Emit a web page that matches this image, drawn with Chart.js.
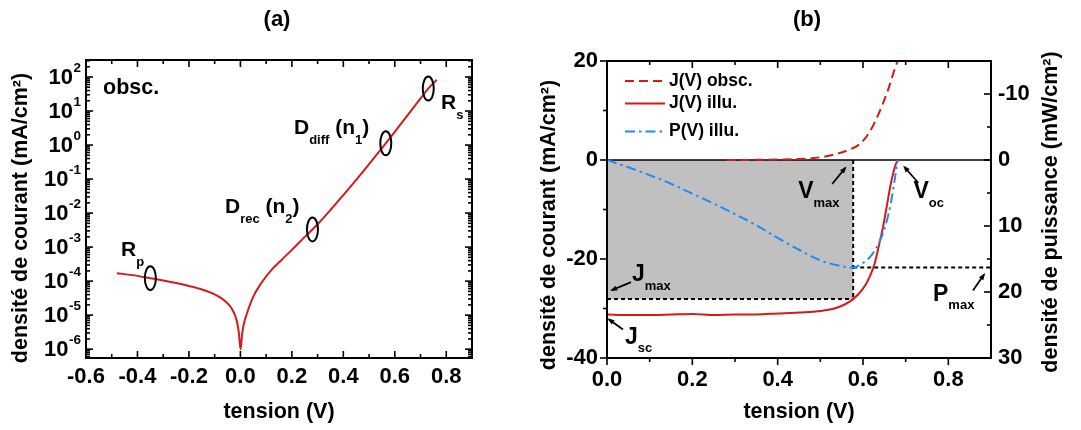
<!DOCTYPE html>
<html>
<head>
<meta charset="utf-8">
<script src="https://cdn.jsdelivr.net/npm/chart.js@4.4.0/dist/chart.umd.min.js"></script>
<style>
  html, body { margin: 0; padding: 0; background: #fff; }
  #wrap { position: relative; width: 1081px; height: 430px; }
  canvas { position: absolute; top: 0; }
</style>
</head>
<body>
<div id="wrap">
  <canvas id="chartA" width="540" height="430" style="left:0"></canvas>
  <canvas id="chartB" width="541" height="430" style="left:540px"></canvas>
</div>
<script>
// (a) dark J(V), absolute value on a log axis
const voltsDark = [-0.48, -0.42, -0.35, -0.3, -0.25, -0.2, -0.15, -0.1, -0.07, -0.045, -0.03, -0.02, -0.012, -0.006, -0.002,
  0.001, 0.006, 0.012, 0.025, 0.05, 0.08, 0.12, 0.16, 0.2, 0.25, 0.3, 0.35, 0.4, 0.45, 0.5, 0.55, 0.6, 0.65, 0.7, 0.73, 0.763];
const currentDark = [1.7e-4, 1.5e-4, 1.22e-4, 1.05e-4, 8.8e-5, 7.2e-5, 5.7e-5, 4.1e-5, 3.0e-5, 2.05e-5, 1.4e-5, 9.5e-6, 5.8e-6, 3.0e-6, 1.4e-6,
  1.0e-6, 2.5e-6, 5e-6, 1.1e-5, 3.5e-5, 8.5e-5, 2.1e-4, 4.2e-4, 8.3e-4, 2.0e-3, 4.7e-3, 1.23e-2, 3.39e-2, 9.5e-2, 0.275, 0.81, 2.45, 7.6, 23.4, 45.7, 83];
const xTicksA = [-0.6, -0.4, -0.2, 0, 0.2, 0.4, 0.6, 0.8];
const logExponents = [-6, -5, -4, -3, -2, -1, 0, 1, 2];

// (b) dark + illuminated J(V) and P(V)
const voltsObsc = [0.28, 0.35, 0.4, 0.45, 0.485, 0.523, 0.562, 0.592, 0.615, 0.638, 0.658, 0.673, 0.681];
const currentObsc = [0.0, 0.03, 0.08, 0.2, 0.4, 0.9, 1.9, 3.2, 5.6, 9.6, 14.0, 18.0, 20.0];
const voltsIllu = [0, 0.05, 0.1, 0.15, 0.2, 0.25, 0.3, 0.35, 0.4, 0.45, 0.5, 0.54, 0.577, 0.6, 0.615, 0.627, 0.638, 0.647, 0.654, 0.665, 0.677, 0.683];
const currentIllu = [-31.2, -31.3, -31.3, -31.2, -31.1, -31.3, -31.2, -31.2, -31.0, -30.8, -30.5, -29.8, -28.1, -26.0, -23.7, -21.0, -17.0, -13.5, -10.2, -4.9, -0.8, 0];
const voltsPower = [0, 0.05, 0.1, 0.15, 0.2, 0.25, 0.3, 0.35, 0.4, 0.45, 0.5, 0.54, 0.577, 0.6, 0.62, 0.64, 0.655, 0.665, 0.675, 0.681];
const powerIllu = [0, 1.1, 2.3, 3.6, 5.1, 6.6, 8.2, 9.9, 11.8, 13.6, 15.2, 15.95, 16.3, 15.6, 14.4, 12.2, 9.4, 6.6, 2.7, 0];
const vMax = 0.577, jMax = -28.1, pMax = 16.3;
const xTicksB = [0, 0.2, 0.4, 0.6, 0.8];
const yTicksB = [-40, -20, 0, 20];
const y2TicksB = [-10, 0, 10, 20, 30];

const FAMILY = "'Liberation Sans', Arial, sans-serif";
const RED = '#d61a1a';
const BLUE = '#1a8cff';
const font = (size) => 'bold ' + size + 'px ' + FAMILY;
const pts = (xs, ys) => xs.map((x, i) => ({ x: x, y: ys[i] }));

// text with _{sub} parts
function drawRich(ctx, x, y, str, size, subSize, subDy) {
  ctx.textAlign = 'left';
  ctx.textBaseline = 'middle';
  ctx.fillStyle = '#000';
  str.split(/(_\{[^}]*\})/).forEach(part => {
    if (!part) return;
    const sub = part.startsWith('_{');
    const t = sub ? part.slice(2, -1) : part;
    ctx.font = font(sub ? subSize : size);
    ctx.fillText(t, x, sub ? y + subDy : y);
    x += ctx.measureText(t).width;
  });
}

function line(ctx, x1, y1, x2, y2) {
  ctx.beginPath();
  ctx.moveTo(x1, y1);
  ctx.lineTo(x2, y2);
  ctx.stroke();
}

function arrow(ctx, x1, y1, x2, y2) {
  ctx.lineWidth = 1.8;
  line(ctx, x1, y1, x2, y2);
  const ang = Math.atan2(y2 - y1, x2 - x1);
  ctx.beginPath();
  ctx.moveTo(x2 + 2 * Math.cos(ang), y2 + 2 * Math.sin(ang));
  ctx.lineTo(x2 - 5 * Math.cos(ang) + 2.6 * Math.sin(ang), y2 - 5 * Math.sin(ang) - 2.6 * Math.cos(ang));
  ctx.lineTo(x2 - 5 * Math.cos(ang) - 2.6 * Math.sin(ang), y2 - 5 * Math.sin(ang) + 2.6 * Math.cos(ang));
  ctx.closePath();
  ctx.fill();
}

// tick marks: dir = direction in pixels (sign) away from the axis line
function hTicks(ctx, scale, values, yPix, len, dir) {
  values.forEach(v => {
    const px = scale.getPixelForValue(v);
    line(ctx, px, yPix, px, yPix + dir * len);
  });
}
function vTicks(ctx, scale, values, xPix, len, dir) {
  values.forEach(v => {
    const py = scale.getPixelForValue(v);
    line(ctx, xPix, py, xPix + dir * len, py);
  });
}

function axisTitle(ctx, text, x, y, rotate) {
  ctx.save();
  ctx.translate(x, y);
  if (rotate) ctx.rotate(-Math.PI / 2);
  ctx.font = font(21.5);
  ctx.fillStyle = '#000';
  ctx.textAlign = 'center';
  ctx.textBaseline = 'middle';
  ctx.fillText(text, 0, 0);
  ctx.restore();
}

const tickFont = { family: FAMILY, size: 22, weight: 'bold' };

const panelA = {
  id: 'panelA',
  afterDraw(chart) {
    const { ctx, chartArea: a, scales: { x, y } } = chart;
    ctx.save();
    ctx.strokeStyle = '#000';
    ctx.fillStyle = '#000';
    ctx.lineWidth = 2;
    ctx.strokeRect(a.left, a.top, a.right - a.left, a.bottom - a.top);

    const xMinor = [-0.5, -0.3, -0.1, 0.1, 0.3, 0.5, 0.7];
    ctx.lineWidth = 1.6;
    hTicks(ctx, x, xTicksA, a.bottom, 7, -1);
    hTicks(ctx, x, xMinor, a.bottom, 4, -1);
    hTicks(ctx, x, xTicksA, a.top, 7, 1);
    hTicks(ctx, x, xMinor, a.top, 4, 1);

    const majors = logExponents.map(e => Math.pow(10, e));
    const minors = [];
    for (let e = -7; e <= 2; e++) {
      for (let m = 2; m <= 9; m++) {
        const v = m * Math.pow(10, e);
        if (v >= y.min && v <= y.max) minors.push(v);
      }
    }
    vTicks(ctx, y, majors, a.left, 7, 1);
    vTicks(ctx, y, minors, a.left, 4, 1);
    vTicks(ctx, y, majors, a.right, 7, -1);
    vTicks(ctx, y, minors, a.right, 4, -1);

    // 10^n labels
    logExponents.forEach(e => {
      const py = y.getPixelForValue(Math.pow(10, e));
      const exp = String(e);
      ctx.textBaseline = 'middle';
      ctx.textAlign = 'left';
      ctx.font = font(13.5);
      const ew = ctx.measureText(exp).width;
      const right = a.left - 5;
      ctx.fillText(exp, right - ew, py - 9);
      ctx.font = font(22);
      ctx.textAlign = 'right';
      ctx.fillText('10', right - ew - 0.5, py + 1);
    });

    // annotation ellipses on the curve
    ctx.lineWidth = 2;
    [[-0.35, 1.22e-4], [0.28, 3.3e-3], [0.565, 1.12], [0.73, 45.7]].forEach(([vx, vy]) => {
      ctx.beginPath();
      ctx.ellipse(x.getPixelForValue(vx), y.getPixelForValue(vy), 5.5, 12, 0, 0, Math.PI * 2);
      ctx.stroke();
    });

    drawRich(ctx, 103, 88, 'obsc.', 21.5, 13, 11);
    drawRich(ctx, 121, 250, 'R_{p}', 21, 13, 12);
    drawRich(ctx, 225, 207, 'D_{rec} (n_{2})', 21, 13, 12);
    drawRich(ctx, 294, 128, 'D_{diff} (n_{1})', 21, 13, 12);
    drawRich(ctx, 441, 103, 'R_{s}', 21, 13, 12);

    ctx.font = font(22);
    ctx.textAlign = 'center';
    ctx.textBaseline = 'middle';
    ctx.fillText('(a)', 277, 20);
    axisTitle(ctx, 'tension (V)', (a.left + a.right) / 2, 412, false);
    axisTitle(ctx, 'densité de courant (mA/cm²)', 21, 218, true);
    ctx.restore();
  }
};

const panelB = {
  id: 'panelB',
  afterDraw(chart) {
    const { ctx, chartArea: a, scales: { x, y, y2 } } = chart;
    ctx.save();
    ctx.strokeStyle = '#000';
    ctx.fillStyle = '#000';
    ctx.lineWidth = 2;
    ctx.strokeRect(a.left, a.top, a.right - a.left, a.bottom - a.top);

    ctx.lineWidth = 1.6;
    const xMinor = [0.1, 0.3, 0.5, 0.7];
    hTicks(ctx, x, xTicksB, a.bottom, 7, 1);
    hTicks(ctx, x, xMinor, a.bottom, 4, 1);
    hTicks(ctx, x, xTicksB, a.top, 7, 1);
    hTicks(ctx, x, xMinor, a.top, 4, 1);
    vTicks(ctx, y, yTicksB, a.left, 7, -1);
    vTicks(ctx, y, [-30, -10, 10], a.left, 4, -1);
    vTicks(ctx, y2, y2TicksB, a.right, 7, -1);
    vTicks(ctx, y2, [-5, 5, 15, 25], a.right, 4, -1);

    // legend
    const legend = [
      { label: 'J(V) obsc.', color: RED, dash: [9, 5], y: 81 },
      { label: 'J(V) illu.', color: RED, dash: [], y: 103.5 },
      { label: 'P(V) illu.', color: BLUE, dash: [10, 4, 2.5, 4], y: 131.5 }
    ];
    legend.forEach(item => {
      ctx.save();
      ctx.strokeStyle = item.color;
      ctx.lineWidth = 2;
      ctx.setLineDash(item.dash);
      line(ctx, 85, item.y, 125, item.y);
      ctx.restore();
      ctx.font = font(17.5);
      ctx.textAlign = 'left';
      ctx.textBaseline = 'middle';
      ctx.fillText(item.label, 129, item.y);
    });

    // labels and arrows, placed from the key points
    const px = (v) => x.getPixelForValue(v);
    const vmX = px(vMax), zeroY = y.getPixelForValue(0);
    const jmY = y.getPixelForValue(jMax), pmY = y2.getPixelForValue(pMax);
    const ocX = px(voltsIllu[voltsIllu.length - 1]);
    const scY = y.getPixelForValue(currentIllu[0]);

    drawRich(ctx, vmX - 55, zeroY + 32, 'V_{max}', 23, 13, 11);
    arrow(ctx, vmX - 21, zeroY + 24, vmX - 8, zeroY + 8);
    drawRich(ctx, ocX + 15, zeroY + 32, 'V_{oc}', 23, 13, 11);
    arrow(ctx, ocX + 20, zeroY + 23, ocX + 6, zeroY + 7);
    drawRich(ctx, a.left + 25, jmY - 24, 'J_{max}', 23, 13, 11);
    arrow(ctx, a.left + 24, jmY - 17, a.left + 5, jmY - 9);
    drawRich(ctx, a.left + 18, scY + 23, 'J_{sc}', 23, 13, 11);
    arrow(ctx, a.left + 16, scY + 15, a.left + 2, scY + 5);
    drawRich(ctx, a.right - 58, pmY + 27, 'P_{max}', 23, 13, 11);
    arrow(ctx, a.right - 18, pmY + 23, a.right - 7, pmY + 7);

    ctx.font = font(22);
    ctx.textAlign = 'center';
    ctx.textBaseline = 'middle';
    ctx.fillText('(b)', 267, 20);
    axisTitle(ctx, 'tension (V)', (a.left + a.right) / 2, 412, false);
    axisTitle(ctx, 'densité de courant (mA/cm²)', 9, 225, true);
    axisTitle(ctx, 'densité de puissance (mW/cm²)', 511, 212, true);
    ctx.restore();
  }
};

new Chart(document.getElementById('chartA'), {
  type: 'line',
  data: {
    datasets: [{
      data: pts(voltsDark, currentDark),
      borderColor: RED,
      borderWidth: 2,
      pointRadius: 0,
      cubicInterpolationMode: 'monotone'
    }]
  },
  options: {
    responsive: false,
    animation: false,
    devicePixelRatio: 1,
    layout: { padding: { left: 0, right: 68, top: 60, bottom: 0 } },
    plugins: { legend: { display: false }, tooltip: { enabled: false } },
    scales: {
      x: {
        type: 'linear', min: -0.6, max: 0.9,
        grid: { display: false, drawTicks: false }, border: { display: false },
        afterBuildTicks: s => { s.ticks = xTicksA.map(v => ({ value: v })); },
        afterFit: s => { s.height = 72; },
        ticks: { font: tickFont, color: '#000', padding: 6, maxRotation: 0, autoSkip: false,
          callback: v => v.toFixed(1) }
      },
      y: {
        type: 'logarithmic', min: 5.5e-7, max: 316,
        grid: { display: false, drawTicks: false }, border: { display: false },
        ticks: { display: false },
        afterFit: s => { s.width = 86; }
      }
    }
  },
  plugins: [panelA]
});

new Chart(document.getElementById('chartB'), {
  type: 'line',
  data: {
    datasets: [
      { data: pts(voltsPower, powerIllu), yAxisID: 'y2', borderColor: BLUE, borderWidth: 2, borderDash: [10, 4, 2.5, 4], pointRadius: 0, cubicInterpolationMode: 'monotone' },
      { data: pts(voltsIllu, currentIllu), borderColor: RED, borderWidth: 2, pointRadius: 0, cubicInterpolationMode: 'monotone' },
      { data: pts(voltsObsc, currentObsc), borderColor: RED, borderWidth: 2, borderDash: [9, 5], pointRadius: 0, cubicInterpolationMode: 'monotone' },
      { data: [{ x: 0, y: 0 }, { x: 0.9, y: 0 }], borderColor: '#000', borderWidth: 1.6, pointRadius: 0 },
      { data: [{ x: vMax, y: 0 }, { x: vMax, y: jMax }], borderColor: '#000', borderWidth: 2, borderDash: [4, 3], pointRadius: 0 },
      { data: [{ x: vMax, y: pMax }, { x: 0.9, y: pMax }], yAxisID: 'y2', borderColor: '#000', borderWidth: 2, borderDash: [4, 3], pointRadius: 0 },
      { data: [{ x: 0, y: jMax }, { x: vMax, y: jMax }], borderColor: '#000', borderWidth: 2, borderDash: [4, 3], pointRadius: 0,
        fill: 'origin', backgroundColor: '#c0c0c0' }
    ]
  },
  options: {
    responsive: false,
    animation: false,
    devicePixelRatio: 1,
    layout: { padding: { left: 0, right: 0, top: 61, bottom: 0 } },
    plugins: { legend: { display: false }, tooltip: { enabled: false } },
    scales: {
      x: {
        type: 'linear', min: 0, max: 0.9,
        grid: { display: false, drawTicks: false }, border: { display: false },
        afterBuildTicks: s => { s.ticks = xTicksB.map(v => ({ value: v })); },
        afterFit: s => { s.height = 72; },
        ticks: { font: tickFont, color: '#000', padding: 9, maxRotation: 0, autoSkip: false,
          callback: v => v.toFixed(1) }
      },
      y: {
        type: 'linear', position: 'left', min: -40, max: 20,
        grid: { display: false, drawTicks: false }, border: { display: false },
        afterBuildTicks: s => { s.ticks = yTicksB.map(v => ({ value: v })); },
        afterFit: s => { s.width = 67; },
        ticks: { font: tickFont, color: '#000', padding: 9, callback: v => String(v) }
      },
      y2: {
        type: 'linear', position: 'right', min: -15, max: 30, reverse: true,
        grid: { display: false, drawTicks: false }, border: { display: false },
        afterBuildTicks: s => { s.ticks = y2TicksB.map(v => ({ value: v })); },
        afterFit: s => { s.width = 90; },
        ticks: { font: tickFont, color: '#000', padding: 7, callback: v => String(v) }
      }
    }
  },
  plugins: [panelB]
});
</script>
</body>
</html>
